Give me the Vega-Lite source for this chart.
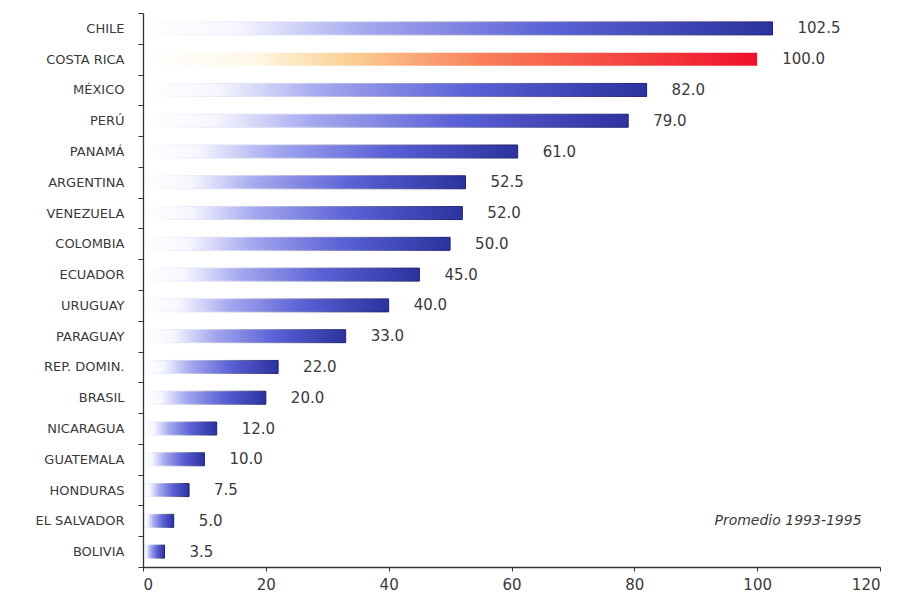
{
  "$schema": "https://vega.github.io/schema/vega-lite/v6.json",
  "width": 737,
  "height": 554,
  "autosize": {"type": "none"},
  "padding": {"left": 143, "top": 13, "right": 21, "bottom": 30},
  "background": "white",
  "config": {"view": {"stroke": null}},
  "data": {
    "values": [
      {"pais": "CHILE", "valor": 102.5, "grupo": "azul"},
      {"pais": "COSTA RICA", "valor": 100.0, "grupo": "rojo"},
      {"pais": "MÉXICO", "valor": 82.0, "grupo": "azul"},
      {"pais": "PERÚ", "valor": 79.0, "grupo": "azul"},
      {"pais": "PANAMÁ", "valor": 61.0, "grupo": "azul"},
      {"pais": "ARGENTINA", "valor": 52.5, "grupo": "azul"},
      {"pais": "VENEZUELA", "valor": 52.0, "grupo": "azul"},
      {"pais": "COLOMBIA", "valor": 50.0, "grupo": "azul"},
      {"pais": "ECUADOR", "valor": 45.0, "grupo": "azul"},
      {"pais": "URUGUAY", "valor": 40.0, "grupo": "azul"},
      {"pais": "PARAGUAY", "valor": 33.0, "grupo": "azul"},
      {"pais": "REP. DOMIN.", "valor": 22.0, "grupo": "azul"},
      {"pais": "BRASIL", "valor": 20.0, "grupo": "azul"},
      {"pais": "NICARAGUA", "valor": 12.0, "grupo": "azul"},
      {"pais": "GUATEMALA", "valor": 10.0, "grupo": "azul"},
      {"pais": "HONDURAS", "valor": 7.5, "grupo": "azul"},
      {"pais": "EL SALVADOR", "valor": 5.0, "grupo": "azul"},
      {"pais": "BOLIVIA", "valor": 3.5, "grupo": "azul"}
    ]
  },
  "encoding": {
    "y": {
      "field": "pais",
      "type": "nominal",
      "sort": null,
      "scale": {
        "domain": ["CHILE", "COSTA RICA", "MÉXICO", "PERÚ", "PANAMÁ", "ARGENTINA", "VENEZUELA", "COLOMBIA", "ECUADOR", "URUGUAY", "PARAGUAY", "REP. DOMIN.", "BRASIL", "NICARAGUA", "GUATEMALA", "HONDURAS", "EL SALVADOR", "BOLIVIA"],
        "paddingInner": 0,
        "paddingOuter": 0
      },
      "axis": {
        "title": null,
        "zindex": 1,
        "tickBand": "extent",
        "tickSize": 5,
        "tickColor": "#333333",
        "domainColor": "#333333",
        "domainWidth": 1.3,
        "labelFont": "DejaVu Sans",
        "labelFontSize": 13,
        "labelColor": "#3a3a3a",
        "labelPadding": 14
      }
    },
    "x": {
      "field": "valor",
      "type": "quantitative",
      "scale": {"domain": [0, 120], "nice": false},
      "axis": {
        "title": null,
        "zindex": 1,
        "values": [0, 20, 40, 60, 80, 100, 120],
        "grid": false,
        "tickSize": 4,
        "tickColor": "#333333",
        "domainColor": "#333333",
        "domainWidth": 1.3,
        "labelFont": "DejaVu Sans",
        "labelFontSize": 15,
        "labelColor": "#3a3a3a",
        "labelPadding": 6
      }
    }
  },
  "layer": [
    {
      "transform": [{"filter": "datum.grupo === 'azul'"}],
      "mark": {
        "type": "bar",
        "height": 13,
        "strokeWidth": 1,
        "color": {
          "gradient": "linear",
          "x1": 0, "y1": 0, "x2": 1, "y2": 0,
          "stops": [
            {"offset": 0, "color": "#ffffff"},
            {"offset": 0.15, "color": "#f6f6ff"},
            {"offset": 0.35, "color": "#a4a8ef"},
            {"offset": 0.65, "color": "#5a60d6"},
            {"offset": 1, "color": "#2c329e"}
          ]
        },
        "stroke": {
          "gradient": "linear",
          "x1": 0, "y1": 0, "x2": 1, "y2": 0,
          "stops": [
            {"offset": 0, "color": "#ffffff"},
            {"offset": 0.3, "color": "#d0d2f2"},
            {"offset": 1, "color": "#1c2070"}
          ]
        }
      }
    },
    {
      "transform": [{"filter": "datum.grupo === 'rojo'"}],
      "mark": {
        "type": "bar",
        "height": 13,
        "strokeWidth": 0,
        "color": {
          "gradient": "linear",
          "x1": 0, "y1": 0, "x2": 1, "y2": 0,
          "stops": [
            {"offset": 0, "color": "#ffffff"},
            {"offset": 0.18, "color": "#fff8e8"},
            {"offset": 0.32, "color": "#fbd59a"},
            {"offset": 0.55, "color": "#f8805a"},
            {"offset": 1, "color": "#f0102a"}
          ]
        }
      }
    },
    {
      "mark": {
        "type": "text",
        "align": "left",
        "baseline": "middle",
        "dx": 25,
        "font": "DejaVu Sans",
        "fontSize": 15,
        "color": "#3a3a3a"
      },
      "encoding": {
        "text": {"field": "valor", "type": "quantitative", "format": ".1f"}
      }
    },
    {
      "data": {"values": [{"nota": "Promedio 1993-1995", "px": 117, "py": "EL SALVADOR"}]},
      "mark": {
        "type": "text",
        "align": "right",
        "baseline": "middle",
        "font": "DejaVu Sans",
        "fontSize": 14,
        "fontStyle": "italic",
        "color": "#3a3a3a"
      },
      "encoding": {
        "x": {"field": "px", "type": "quantitative"},
        "y": {"field": "py", "type": "nominal", "sort": null},
        "text": {"field": "nota"}
      }
    }
  ]
}
